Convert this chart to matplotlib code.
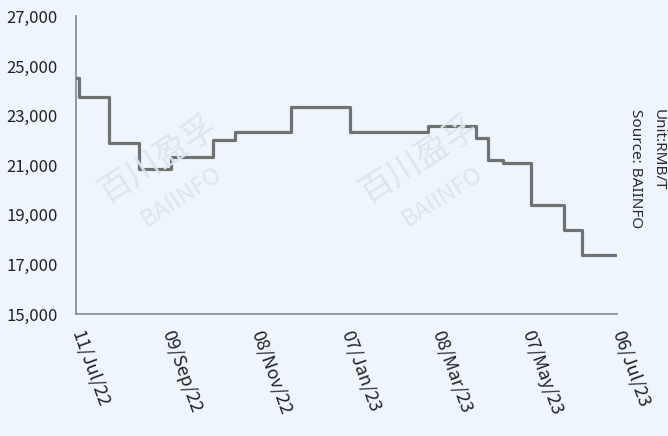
import matplotlib
matplotlib.use("Agg")
import matplotlib.pyplot as plt
import matplotlib.ticker as mticker
import pandas as pd

# dates where the price changes (step chart) and the price from that day on
change_dates = ["2022-07-11", "2022-07-13", "2022-08-02", "2022-08-22",
                "2022-09-12", "2022-10-10", "2022-10-25", "2022-12-01",
                "2023-01-09", "2023-03-02", "2023-04-03", "2023-04-11",
                "2023-04-21", "2023-05-10", "2023-06-01", "2023-06-13",
                "2023-07-06"]
prices = [24500, 23750, 21900, 20850, 21350, 22000, 22350, 23350,
          22350, 22600, 22100, 21200, 21100, 19400, 18400, 17400,
          17400]

tick_dates = ["2022-07-11", "2022-09-09", "2022-11-08", "2023-01-07",
              "2023-03-08", "2023-05-07", "2023-07-06"]
tick_labels = ["11/Jul/22", "09/Sep/22", "08/Nov/22", "07/Jan/23",
               "08/Mar/23", "07/May/23", "06/Jul/23"]
y_ticks = [15000, 17000, 19000, 21000, 23000, 25000, 27000]

bg = "#eef5fc"
plt.rcParams["font.family"] = ["Noto Sans CJK SC", "DejaVu Sans"]

fig = plt.figure(figsize=(6.68, 4.36), dpi=100, facecolor=bg)
ax = fig.add_axes([0.1138, 0.2798, 0.8099, 0.6824])
ax.set_facecolor(bg)

# watermarks
for x0 in [0.237, 0.627]:
    fig.text(x0, 0.636, "百川盈孚", fontsize=24, color="#dce5ed", rotation=33,
             ha="center", va="center", zorder=0)
    fig.text(x0 + 0.035, 0.548, "BAIINFO", fontsize=17, color="#dce5ed",
             rotation=33, ha="center", va="center", zorder=0)

x = pd.to_datetime(change_dates)
ax.step(x, prices, where="post", color="#6e7371", linewidth=2.3, zorder=3)

ax.set_ylim(15000, 27000)
ax.set_yticks(y_ticks)
ax.yaxis.set_major_formatter(mticker.FuncFormatter(lambda v, p: f"{int(v):,}"))
ax.set_xlim(pd.Timestamp("2022-07-11"), pd.Timestamp("2023-07-06"))
ax.set_xticks(pd.to_datetime(tick_dates))
ax.set_xticklabels(tick_labels, rotation=-70, rotation_mode="anchor",
                   ha="left", va="center", fontsize=13)

ax.tick_params(axis="both", length=0, colors="#222222")
ax.tick_params(axis="y", pad=13, labelsize=12)
ax.tick_params(axis="x", pad=12)

for s in ["top", "right"]:
    ax.spines[s].set_visible(False)
for s in ["left", "bottom"]:
    ax.spines[s].set_color("#8c9196")
    ax.spines[s].set_linewidth(1.3)

fig.text(0.985, 0.75, "Unit:RMB/T", rotation=270, fontsize=11,
         family="Noto Sans", color="#2a2a2a", ha="center", va="top")
fig.text(0.951, 0.75, "Source: BAIINFO", rotation=270, fontsize=11,
         family="Noto Sans", color="#2a2a2a", ha="center", va="top")

fig.savefig("out.png", dpi=100, facecolor=bg)
